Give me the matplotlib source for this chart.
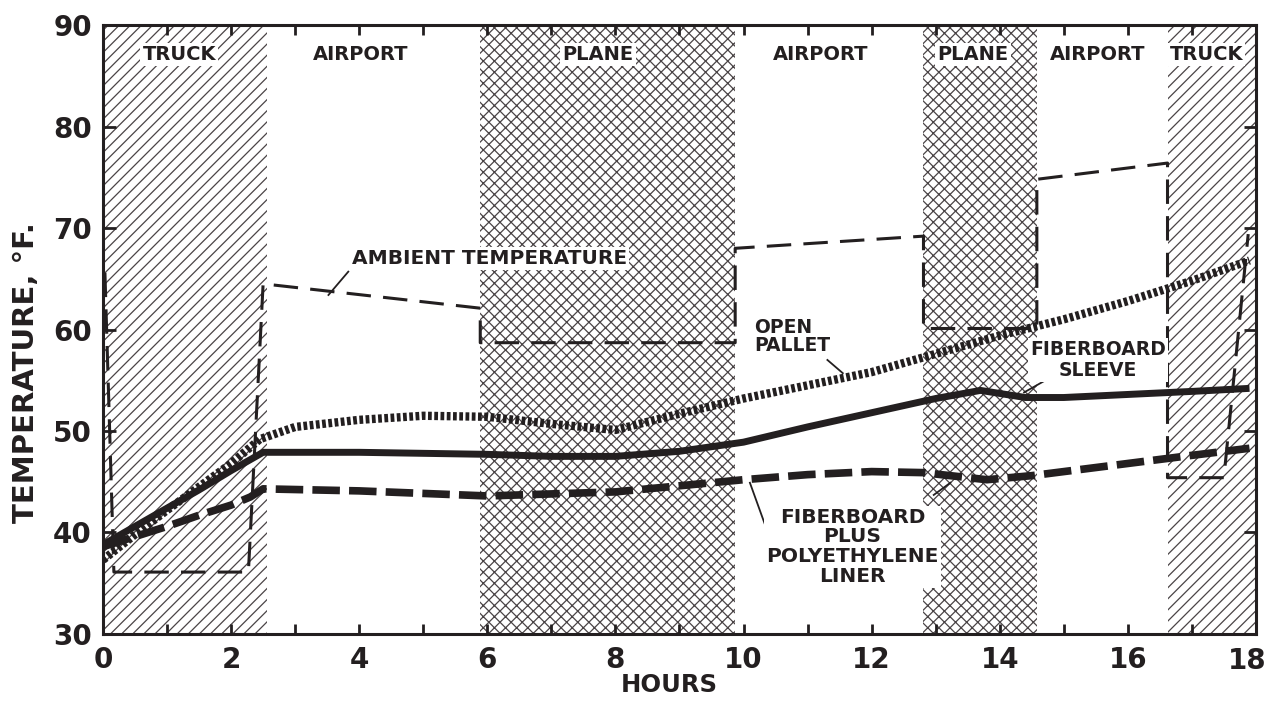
import numpy as np
import matplotlib
matplotlib.use("Agg")
import matplotlib.pyplot as plt
from matplotlib.ticker import MultipleLocator

plt.rcParams['font.family'] = ['DejaVu Sans']
plt.rcParams['font.weight'] = 'bold'
plt.rcParams['axes.labelweight'] = 'bold'
plt.rcParams['hatch.linewidth'] = 0.9

INK = '#231f20'
HATCH = '#4a4446'

# transport stages along the trip
zone_names = ['TRUCK', 'AIRPORT', 'PLANE', 'AIRPORT', 'PLANE', 'AIRPORT', 'TRUCK']
zone_edges = [0.0, 2.56, 5.89, 9.87, 12.81, 14.58, 16.62, 18.0]
zone_hatch = ['///', '', 'xxx', '', 'xxx', '', '///']
zone_label_x = [1.19, 4.03, 7.73, 11.2, 13.58, 15.53, 17.23]

hour_ticks = [0, 2, 4, 6, 8, 10, 12, 14, 16, 18]

# ambient air temperature (step-like trace)
ambient_h = [0.03, 0.17, 2.27, 2.5, 5.89, 5.89, 9.87, 9.87, 12.81, 12.81,
             14.58, 14.58, 16.62, 16.62, 17.5, 17.88]
ambient_t = [65.6, 36.1, 36.1, 64.5, 62.1, 58.7, 58.7, 68.0, 69.2, 60.1,
             60.1, 74.8, 76.4, 45.4, 45.4, 69.4]

# open pallet
pallet_h = [0, 0.5, 1.0, 1.5, 2.0, 2.45, 3, 4, 5, 6, 7, 8, 9, 10, 11, 12,
            13, 14, 15, 16, 17, 17.9]
pallet_t = [37.3, 39.8, 42.2, 44.5, 46.8, 49.2, 50.4, 51.1, 51.5, 51.4, 50.7,
            50.1, 51.7, 53.2, 54.5, 55.8, 57.6, 59.4, 61.0, 62.8, 64.8, 66.8]

# fiberboard sleeve
sleeve_h = [0, 0.5, 1.0, 1.5, 2.0, 2.5, 3, 4, 5, 6, 7, 8, 9, 10, 11, 12,
            13, 13.7, 14.4, 15, 16, 17, 17.9]
sleeve_t = [38.8, 40.6, 42.4, 44.2, 46.1, 47.9, 47.9, 47.9, 47.8, 47.7, 47.5,
            47.5, 48.0, 48.9, 50.4, 51.8, 53.2, 54.0, 53.3, 53.3, 53.6, 53.9, 54.2]

# fiberboard plus polyethylene liner
liner_h = [0, 0.5, 1.0, 1.5, 2.0, 2.3, 2.5, 4, 6, 8, 10, 11, 12, 12.8,
           13.8, 14.5, 16, 17, 17.9]
liner_t = [38.6, 39.6, 40.6, 41.7, 42.7, 43.5, 44.3, 44.1, 43.6, 44.0, 45.2,
           45.7, 46.0, 45.9, 45.2, 45.6, 46.8, 47.6, 48.3]

fig = plt.figure(figsize=(12.7, 7.01), dpi=100)
ax = fig.add_axes([0.0811, 0.0956, 0.9078, 0.8687])

box = dict(facecolor='white', edgecolor='none', pad=1.5)

for i, name in enumerate(zone_names):
    if zone_hatch[i]:
        ax.axvspan(zone_edges[i], zone_edges[i + 1], facecolor='white',
                   edgecolor=HATCH, hatch=zone_hatch[i], linewidth=0, zorder=0)
    ax.text(zone_label_x[i], 87.1, name, ha='center', va='center',
            fontsize=14, color=INK, zorder=6, bbox=box)

ax.plot(ambient_h, ambient_t, color=INK, lw=2.2, linestyle=(0, (8, 4)),
        dash_capstyle='butt', zorder=3)
ax.plot(pallet_h, pallet_t, color=INK, lw=6, linestyle=(0, (0.45, 0.3)),
        dash_capstyle='butt', zorder=4)
ax.plot(sleeve_h, sleeve_t, color=INK, lw=5, solid_capstyle='butt', zorder=4)
ax.plot(liner_h, liner_t, color=INK, lw=5.5, linestyle=(0, (3.6, 1.2)),
        dash_capstyle='butt', zorder=4)

# curve labels and leader lines
ax.text(3.88, 67.0, 'AMBIENT TEMPERATURE', ha='left', va='center',
        fontsize=14.5, color=INK, zorder=6, bbox=box)
ax.plot([3.52, 3.83], [63.4, 65.7], color=INK, lw=1.3, zorder=5)

ax.text(10.17, 59.3, 'OPEN\nPALLET', ha='left', va='center', fontsize=13.5,
        color=INK, linespacing=0.95, zorder=6, bbox=box)
ax.plot([11.31, 11.55], [57.0, 55.7], color=INK, lw=1.3, zorder=5)

ax.text(15.53, 57.0, 'FIBERBOARD\nSLEEVE', ha='center', va='center',
        fontsize=13.5, color=INK, linespacing=1.1, zorder=6, bbox=box)
ax.plot([14.38, 14.8], [53.8, 55.3], color=INK, lw=1.3, zorder=5)

ax.text(11.7, 38.6, 'FIBERBOARD\nPLUS\nPOLYETHYLENE\nLINER', ha='center',
        va='center', fontsize=14.5, color=INK, linespacing=1.05, zorder=6,
        bbox=box)
ax.plot([10.1, 10.42], [44.9, 39.3], color=INK, lw=1.3, zorder=5)
ax.plot([12.97, 13.23], [43.7, 44.9], color=INK, lw=1.3, zorder=5)

ax.set_xlim(0, 18)
ax.set_ylim(30, 90)
# the last hour label is written by hand so it stays inside the page
ax.set_xticks(hour_ticks, [str(h) for h in hour_ticks[:-1]] + [''])
ax.xaxis.set_minor_locator(MultipleLocator(1))
ax.yaxis.set_major_locator(MultipleLocator(10))
ax.tick_params(axis='both', which='both', direction='in', colors=INK,
               width=2, top=True, right=True, labelsize=20)
ax.tick_params(axis='x', which='both', length=7, pad=9)
ax.tick_params(axis='y', which='major', length=9, pad=8)
for sp in ax.spines.values():
    sp.set_linewidth(2.2)
    sp.set_color(INK)
ax.annotate(str(hour_ticks[-1]), xy=(hour_ticks[-1], 30), xytext=(-6, -9.5),
            textcoords='offset points', ha='center', va='top', fontsize=20,
            color=INK, annotation_clip=False)

ax.set_xlabel('HOURS', fontsize=17.5, color=INK)
ax.xaxis.set_label_coords(0.491, -0.064)
ax.set_ylabel('TEMPERATURE, °F.', fontsize=21, color=INK, va='center')
ax.yaxis.set_label_coords(-0.0665, 0.43)

fig.savefig('out.png', dpi=100, facecolor='white')
